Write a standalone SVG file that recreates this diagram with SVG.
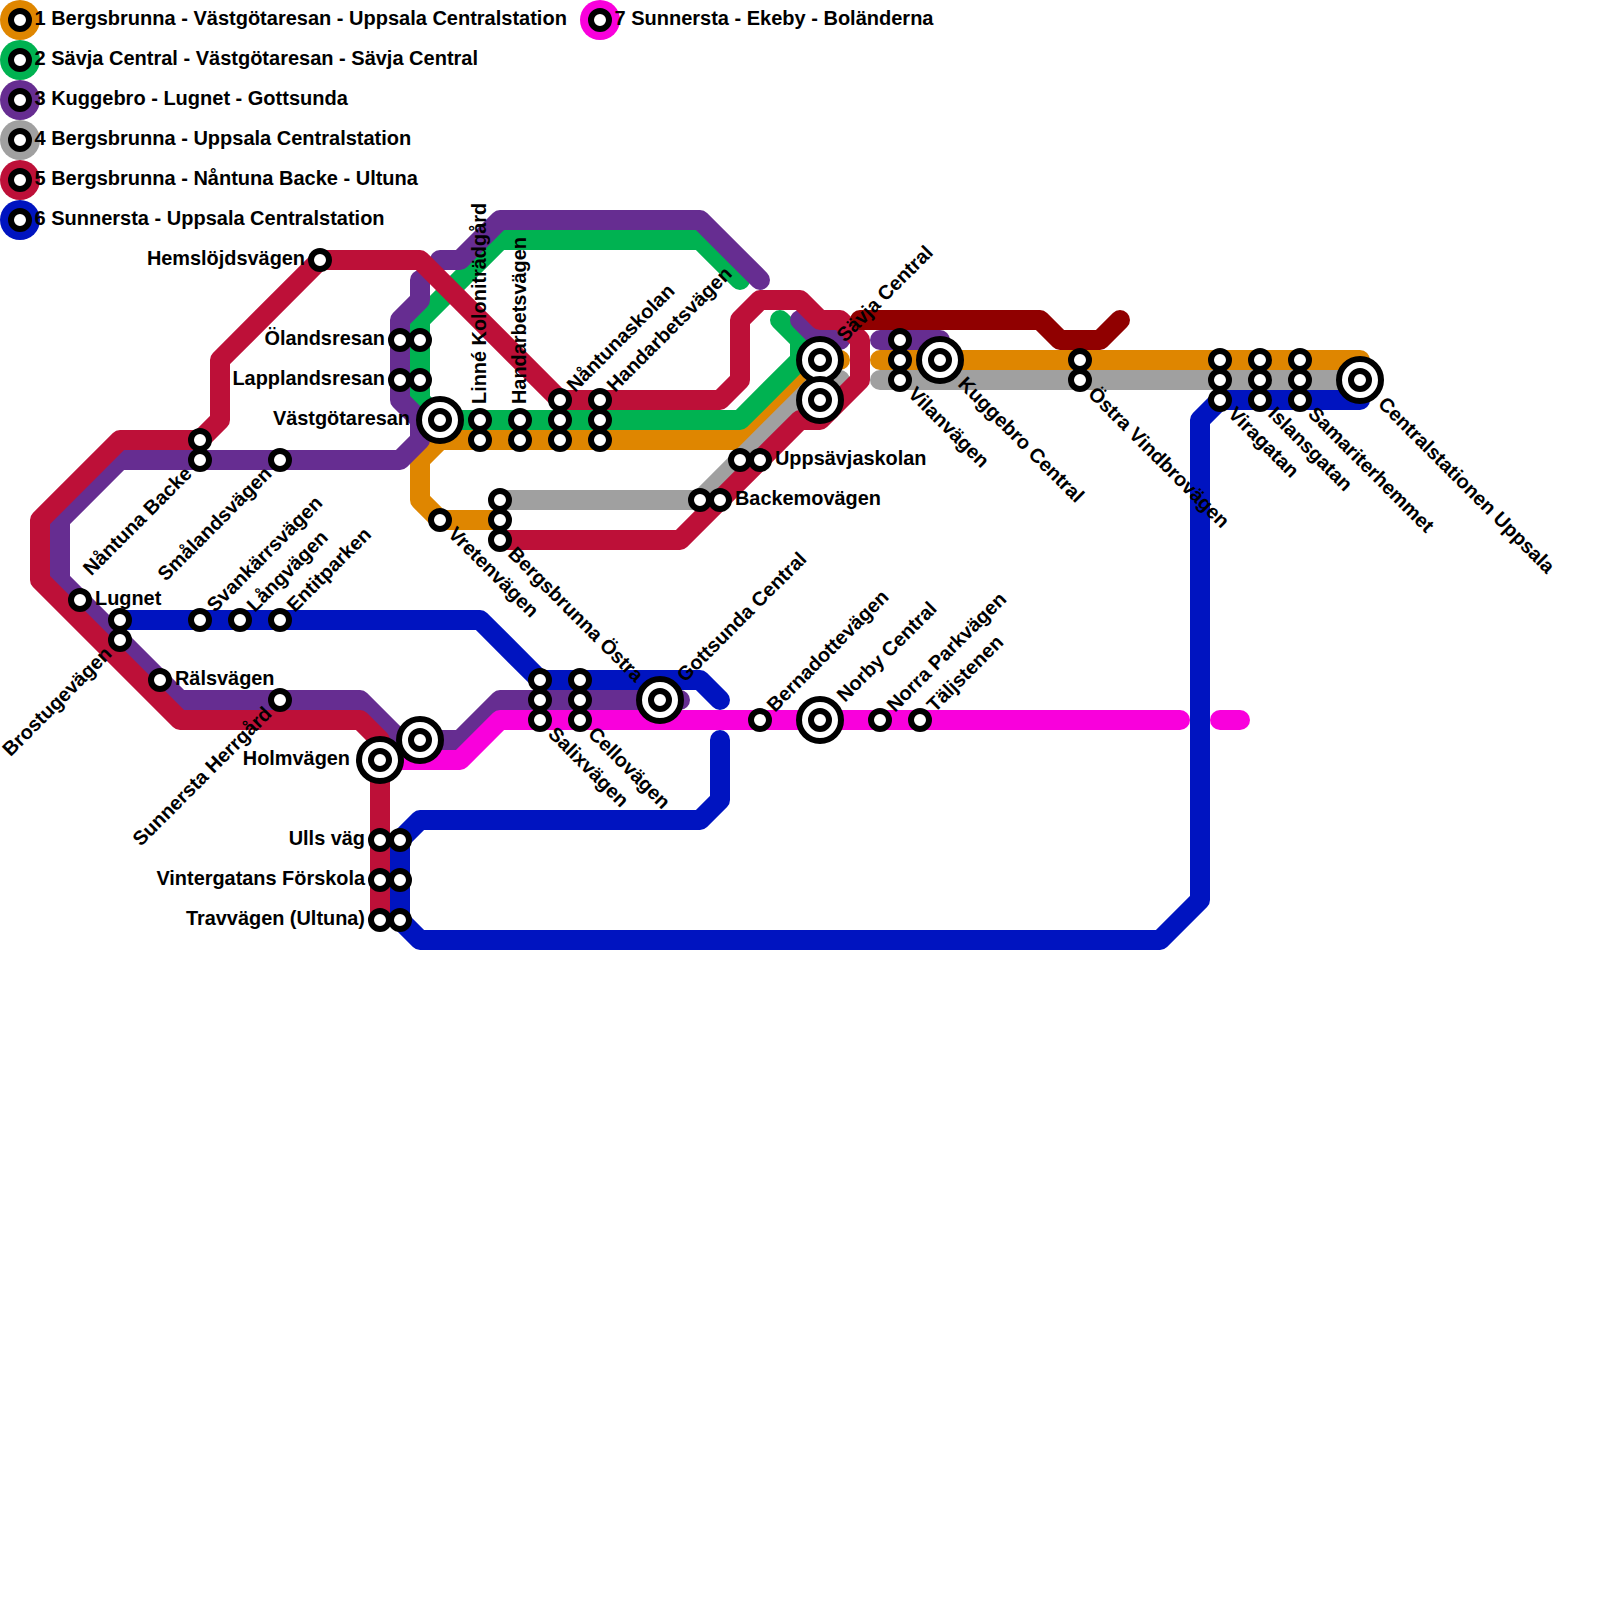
<svg xmlns="http://www.w3.org/2000/svg" width="1600" height="1600" viewBox="0 0 1600 1600">
<style>
.l{fill:none;stroke-width:20;stroke-linecap:round;stroke-linejoin:round}
.o{stroke:#DF8600}.g{stroke:#00B251}.p{stroke:#662D91}.y{stroke:#A0A0A0}.r{stroke:#BD1038}.b{stroke:#0014C0}.m{stroke:#F900DC}.d{stroke:#900000}
.s{fill:#fff;stroke:#000;stroke-width:6}
.w{fill:#fff;stroke:#000;stroke-width:6}
text{font-family:"Liberation Sans",Arial,sans-serif;font-weight:bold;font-size:19.9px;fill:#000;dominant-baseline:central}
#legend text{font-size:20px}
.e{text-anchor:end}
</style>
<defs>
<g id="st"><circle class="s" r="9"/></g>
<g id="bg"><circle class="w" r="21"/><circle class="s" r="9"/></g>
</defs>
<g id="connectors">
<path class="l o" d="M500 520H440L420 500V460L440 440H740L820 360H840"/>
<path class="l o" d="M880 360H1360V380"/>
<path class="l g" d="M740 280L700 240H500L420 320V400L440 420H740L800 360V340L780 320"/>
<path class="l p" d="M760 280L700 220H500L460 260H440"/>
<path class="l p" d="M420 280V300L400 320V400L420 420V440L400 460H120L60 520V580L180 700H360L400 740H460L500 700H680"/>
<path class="l p" d="M800 320L820 340H840"/>
<path class="l p" d="M880 340H940"/>
<path class="l y" d="M500 500H700L820 380H840"/>
<path class="l y" d="M880 380H1360"/>
<path class="l r" d="M500 540H680L800 420H820L860 380V340L840 320H820L800 300H760L740 320V380L720 400H560L420 260H320L220 360V420L200 440H120L40 520V580L180 720H360L380 740V920"/>
<path class="l d" d="M860 320H1040L1060 340H1100L1120 320"/>
<path class="l b" d="M120 620H480L540 680H700L720 700"/>
<path class="l b" d="M720 740V800L700 820H420L400 840V920L420 940H1160L1200 900V420L1220 400H1360"/>
<path class="l m" d="M380 760H460L500 720H1180"/>
<path class="l m" d="M1220 720H1240"/>
</g>
<g id="legend">
<g id="legend-1"><circle cx="20" cy="20" r="20" fill="#DF8600"/><use href="#st" x="20" y="20"/><text x="34.5" y="18">1 Bergsbrunna - Västgötaresan - Uppsala Centralstation</text></g>
<g id="legend-2"><circle cx="20" cy="60" r="20" fill="#00B251"/><use href="#st" x="20" y="60"/><text x="34.5" y="58">2 Sävja Central - Västgötaresan - Sävja Central</text></g>
<g id="legend-3"><circle cx="20" cy="100" r="20" fill="#662D91"/><use href="#st" x="20" y="100"/><text x="34.5" y="98">3 Kuggebro - Lugnet - Gottsunda</text></g>
<g id="legend-4"><circle cx="20" cy="140" r="20" fill="#A0A0A0"/><use href="#st" x="20" y="140"/><text x="34.5" y="138">4 Bergsbrunna - Uppsala Centralstation</text></g>
<g id="legend-5"><circle cx="20" cy="180" r="20" fill="#BD1038"/><use href="#st" x="20" y="180"/><text x="34.5" y="178">5 Bergsbrunna - Nåntuna Backe - Ultuna</text></g>
<g id="legend-6"><circle cx="20" cy="220" r="20" fill="#0014C0"/><use href="#st" x="20" y="220"/><text x="34.5" y="218">6 Sunnersta - Uppsala Centralstation</text></g>
<g id="legend-7"><circle cx="600" cy="20" r="20" fill="#F900DC"/><use href="#st" x="600" y="20"/><text x="614.5" y="18">7 Sunnersta - Ekeby - Boländerna</text></g>
</g>
<g id="hemslojdsvagen"><use href="#st" x="320" y="260"/><text class="e" x="305" y="258">Hemslöjdsvägen</text></g>
<g id="olandsresan"><use href="#st" x="400" y="340"/><use href="#st" x="420" y="340"/><text class="e" x="385" y="338">Ölandsresan</text></g>
<g id="lapplandsresan"><use href="#st" x="400" y="380"/><use href="#st" x="420" y="380"/><text class="e" x="385" y="378">Lapplandsresan</text></g>
<g id="vastgotaresan"><use href="#bg" x="440" y="420"/><text class="e" x="410" y="418">Västgötaresan</text></g>
<g id="linne"><use href="#st" x="480" y="420"/><use href="#st" x="480" y="440"/><text transform="translate(479 404) rotate(-90)">Linné Koloniträdgård</text></g>
<g id="handarbetsvagen-1"><use href="#st" x="520" y="420"/><use href="#st" x="520" y="440"/><text transform="translate(519 404) rotate(-90)">Handarbetsvägen</text></g>
<g id="nantunaskolan"><use href="#st" x="560" y="400"/><use href="#st" x="560" y="420"/><use href="#st" x="560" y="440"/><text transform="translate(570 388) rotate(-45)">Nåntunaskolan</text></g>
<g id="handarbetsvagen-2"><use href="#st" x="600" y="400"/><use href="#st" x="600" y="420"/><use href="#st" x="600" y="440"/><text transform="translate(610 388) rotate(-45)">Handarbetsvägen</text></g>
<g id="nantuna-backe"><use href="#st" x="200" y="440"/><use href="#st" x="200" y="460"/><text class="e" transform="translate(188 470) rotate(-45)">Nåntuna Backe</text></g>
<g id="smalandsvagen"><use href="#st" x="280" y="460"/><text class="e" transform="translate(268 470) rotate(-45)">Smålandsvägen</text></g>
<g id="lugnet"><use href="#st" x="80" y="600"/><text x="95" y="598">Lugnet</text></g>
<g id="brostugevagen"><use href="#st" x="120" y="620"/><use href="#st" x="120" y="640"/><text class="e" transform="translate(108 650) rotate(-45)">Brostugevägen</text></g>
<g id="svankarrsvagen"><use href="#st" x="200" y="620"/><text transform="translate(210 608) rotate(-45)">Svankärrsvägen</text></g>
<g id="langvagen"><use href="#st" x="240" y="620"/><text transform="translate(250 608) rotate(-45)">Långvägen</text></g>
<g id="entitparken"><use href="#st" x="280" y="620"/><text transform="translate(290 608) rotate(-45)">Entitparken</text></g>
<g id="ralsvagen"><use href="#st" x="160" y="680"/><text x="175" y="678">Rälsvägen</text></g>
<g id="sunnersta-herrgard"><use href="#st" x="280" y="700"/><text class="e" transform="translate(268 710) rotate(-45)">Sunnersta Herrgård</text></g>
<g id="holmvagen"><use href="#bg" x="380" y="760"/><text class="e" x="350" y="758">Holmvägen</text></g>
<g id="station-420-740"><use href="#bg" x="420" y="740"/></g>
<g id="ulls-vag"><use href="#st" x="380" y="840"/><use href="#st" x="400" y="840"/><text class="e" x="365" y="838">Ulls väg</text></g>
<g id="vintergatan"><use href="#st" x="380" y="880"/><use href="#st" x="400" y="880"/><text class="e" x="365" y="878">Vintergatans Förskola</text></g>
<g id="travvagen"><use href="#st" x="380" y="920"/><use href="#st" x="400" y="920"/><text class="e" x="365" y="918">Travvägen (Ultuna)</text></g>
<g id="salixvagen"><use href="#st" x="540" y="680"/><use href="#st" x="540" y="700"/><use href="#st" x="540" y="720"/><text transform="translate(552 730) rotate(45)">Salixvägen</text></g>
<g id="cellovagen"><use href="#st" x="580" y="680"/><use href="#st" x="580" y="700"/><use href="#st" x="580" y="720"/><text transform="translate(592 730) rotate(45)">Cellovägen</text></g>
<g id="gottsunda"><use href="#bg" x="660" y="700"/><text transform="translate(680 678) rotate(-45)">Gottsunda Central</text></g>
<g id="bernadottevagen"><use href="#st" x="760" y="720"/><text transform="translate(770 708) rotate(-45)">Bernadottevägen</text></g>
<g id="norby"><use href="#bg" x="820" y="720"/><text transform="translate(840 698) rotate(-45)">Norby Central</text></g>
<g id="norra-parkvagen"><use href="#st" x="880" y="720"/><text transform="translate(890 708) rotate(-45)">Norra Parkvägen</text></g>
<g id="taljstenen"><use href="#st" x="920" y="720"/><text transform="translate(930 708) rotate(-45)">Täljstenen</text></g>
<g id="vretenvagen"><use href="#st" x="440" y="520"/><text transform="translate(452 530) rotate(45)">Vretenvägen</text></g>
<g id="bergsbrunna-ostra"><use href="#st" x="500" y="500"/><use href="#st" x="500" y="520"/><use href="#st" x="500" y="540"/><text transform="translate(512 550) rotate(45)">Bergsbrunna Östra</text></g>
<g id="backemovagen"><use href="#st" x="700" y="500"/><use href="#st" x="720" y="500"/><text x="735" y="498">Backemovägen</text></g>
<g id="uppsavjaskolan"><use href="#st" x="740" y="460"/><use href="#st" x="760" y="460"/><text x="775" y="458">Uppsävjaskolan</text></g>
<g id="savja-central"><use href="#bg" x="820" y="360"/><use href="#bg" x="820" y="400"/><text transform="translate(840 338) rotate(-45)">Sävja Central</text></g>
<g id="vilanvagen"><use href="#st" x="900" y="340"/><use href="#st" x="900" y="360"/><use href="#st" x="900" y="380"/><text transform="translate(912 390) rotate(45)">Vilanvägen</text></g>
<g id="kuggebro"><use href="#bg" x="940" y="360"/><text transform="translate(962 380) rotate(45)">Kuggebro Central</text></g>
<g id="ostra-vindbrovagen"><use href="#st" x="1080" y="360"/><use href="#st" x="1080" y="380"/><text transform="translate(1092 390) rotate(45)">Östra Vindbrovägen</text></g>
<g id="viragatan"><use href="#st" x="1220" y="360"/><use href="#st" x="1220" y="380"/><use href="#st" x="1220" y="400"/><text transform="translate(1232 410) rotate(45)">Viragatan</text></g>
<g id="islansgatan"><use href="#st" x="1260" y="360"/><use href="#st" x="1260" y="380"/><use href="#st" x="1260" y="400"/><text transform="translate(1272 410) rotate(45)">Islansgatan</text></g>
<g id="samariterhemmet"><use href="#st" x="1300" y="360"/><use href="#st" x="1300" y="380"/><use href="#st" x="1300" y="400"/><text transform="translate(1312 410) rotate(45)">Samariterhemmet</text></g>
<g id="centralstationen"><use href="#bg" x="1360" y="380"/><text transform="translate(1382 400) rotate(45)">Centralstationen Uppsala</text></g>
</svg>
